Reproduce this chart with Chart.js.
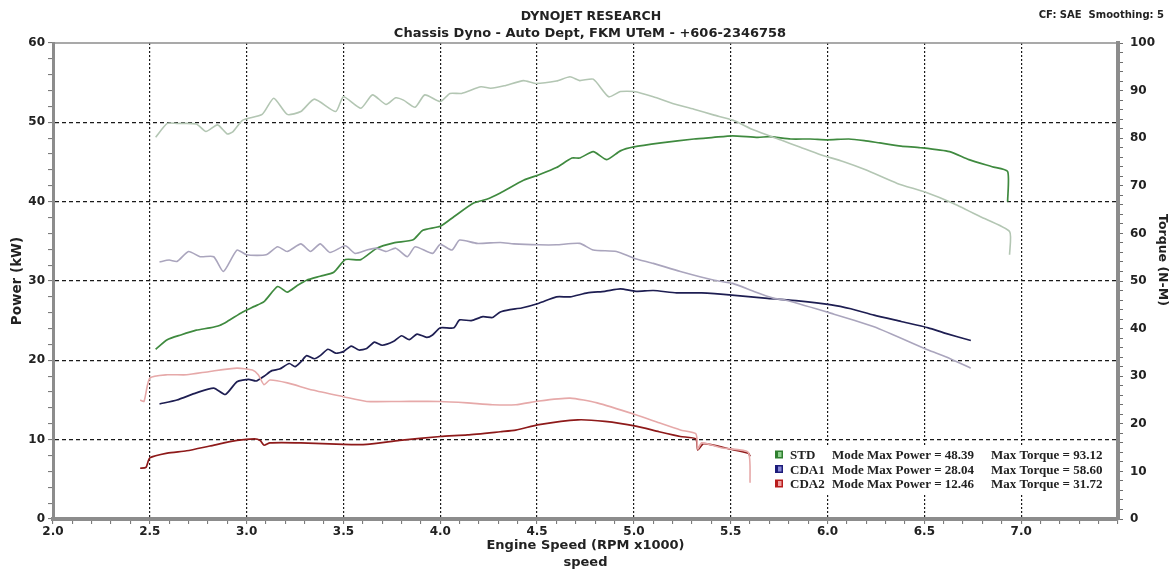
<!DOCTYPE html>
<html>
<head>
<meta charset="utf-8">
<title>Dynojet Research - Chassis Dyno</title>
<script src="https://cdn.jsdelivr.net/npm/chart.js@4.4.1/dist/chart.umd.min.js"></script>
<style>
    html, body { margin: 0; padding: 0; background: #fff; }
    #wrap { width: 1173px; height: 571px; position: relative; }
</style>
</head>
<body>
<div id="wrap"><canvas id="dyno"></canvas></div>
<script>
// 도표에서 읽은 값 (rpm x1000 / kW / N-M)
const stdPowerRpm = [2.53, 2.59, 2.66, 2.74, 2.81, 2.86, 2.90, 2.98, 3.04, 3.09, 3.16, 3.21, 3.26, 3.31, 3.38, 3.45, 3.51, 3.59, 3.67, 3.76, 3.86, 3.91, 4.00, 4.07, 4.17, 4.24, 4.31, 4.43, 4.51, 4.60, 4.68, 4.72, 4.79, 4.86, 4.93, 5.00, 5.14, 5.31, 5.41, 5.51, 5.64, 5.70, 5.81, 5.91, 6.00, 6.11, 6.19, 6.27, 6.38, 6.48, 6.63, 6.73, 6.85, 6.93, 6.93];
const stdPowerKw = [21.4, 22.6, 23.2, 23.8, 24.1, 24.4, 24.9, 26.1, 26.8, 27.4, 29.3, 28.6, 29.4, 30.1, 30.6, 31.1, 32.7, 32.7, 34.1, 34.8, 35.2, 36.4, 36.9, 38.1, 39.8, 40.3, 41.1, 42.7, 43.4, 44.3, 45.5, 45.5, 46.3, 45.3, 46.4, 46.9, 47.4, 47.9, 48.1, 48.3, 48.1, 48.2, 47.9, 47.9, 47.8, 47.9, 47.7, 47.4, 47.0, 46.8, 46.3, 45.3, 44.4, 43.8, 40.0];

const stdTorqueRpm = [2.53, 2.59, 2.64, 2.74, 2.79, 2.85, 2.90, 2.93, 2.98, 3.08, 3.14, 3.21, 3.28, 3.35, 3.46, 3.50, 3.59, 3.65, 3.72, 3.77, 3.81, 3.87, 3.92, 4.00, 4.05, 4.11, 4.21, 4.26, 4.33, 4.43, 4.49, 4.60, 4.67, 4.72, 4.79, 4.87, 4.93, 5.00, 5.10, 5.20, 5.31, 5.41, 5.51, 5.62, 5.76, 5.86, 5.96, 6.08, 6.20, 6.36, 6.51, 6.65, 6.79, 6.94, 6.94];
const stdTorqueNm = [80.2, 83.1, 83.1, 83.0, 81.4, 82.8, 80.9, 81.4, 83.8, 85.0, 88.4, 85.0, 85.6, 88.2, 85.6, 88.7, 86.3, 89.1, 87.1, 88.5, 88.0, 86.5, 89.1, 87.7, 89.4, 89.4, 90.8, 90.5, 91.0, 92.1, 91.5, 92.0, 92.9, 92.1, 92.4, 88.7, 89.8, 89.8, 88.7, 87.3, 86.1, 84.9, 83.8, 81.7, 79.6, 78.1, 76.6, 75.1, 73.3, 70.5, 68.6, 66.3, 63.5, 60.4, 55.5];

const cda1PowerRpm = [2.55, 2.64, 2.74, 2.83, 2.89, 2.95, 3.01, 3.05, 3.09, 3.13, 3.17, 3.22, 3.25, 3.28, 3.31, 3.35, 3.38, 3.42, 3.46, 3.50, 3.54, 3.58, 3.62, 3.66, 3.70, 3.76, 3.80, 3.84, 3.88, 3.93, 3.96, 4.00, 4.07, 4.10, 4.16, 4.22, 4.27, 4.31, 4.36, 4.42, 4.51, 4.60, 4.67, 4.76, 4.85, 4.93, 5.01, 5.10, 5.22, 5.35, 5.52, 5.69, 5.85, 6.02, 6.12, 6.24, 6.38, 6.52, 6.61, 6.74];
const cda1PowerKw = [14.5, 15.0, 15.9, 16.5, 15.7, 17.3, 17.6, 17.4, 18.0, 18.7, 18.9, 19.6, 19.2, 19.8, 20.6, 20.2, 20.6, 21.4, 20.9, 21.1, 21.8, 21.3, 21.5, 22.3, 21.9, 22.4, 23.1, 22.6, 23.3, 22.9, 23.2, 24.1, 24.1, 25.1, 25.0, 25.5, 25.4, 26.1, 26.4, 26.6, 27.2, 28.0, 28.0, 28.5, 28.7, 29.0, 28.7, 28.8, 28.5, 28.5, 28.2, 27.8, 27.5, 27.0, 26.5, 25.7, 24.9, 24.1, 23.4, 22.5];

const cda1TorqueRpm = [2.55, 2.60, 2.64, 2.70, 2.76, 2.83, 2.88, 2.95, 3.00, 3.10, 3.16, 3.21, 3.28, 3.33, 3.38, 3.43, 3.51, 3.56, 3.62, 3.67, 3.72, 3.77, 3.83, 3.87, 3.96, 4.00, 4.06, 4.10, 4.19, 4.31, 4.38, 4.51, 4.60, 4.72, 4.79, 4.91, 5.00, 5.10, 5.24, 5.41, 5.51, 5.62, 5.72, 5.78, 6.02, 6.24, 6.52, 6.61, 6.74];
const cda1TorqueNm = [54.0, 54.4, 54.1, 56.2, 55.1, 55.1, 52.0, 56.5, 55.5, 55.5, 57.2, 56.2, 57.8, 56.2, 57.8, 56.0, 57.4, 55.8, 56.5, 56.9, 56.2, 56.9, 55.1, 57.2, 55.8, 57.7, 56.5, 58.6, 57.9, 58.1, 57.8, 57.6, 57.6, 57.9, 56.5, 56.2, 54.8, 53.7, 52.0, 50.2, 49.5, 47.8, 46.4, 46.0, 43.2, 40.4, 35.5, 34.1, 31.7];

const cda2PowerRpm = [2.45, 2.48, 2.50, 2.59, 2.69, 2.81, 2.95, 3.04, 3.07, 3.09, 3.12, 3.28, 3.50, 3.62, 3.79, 4.00, 4.14, 4.31, 4.39, 4.51, 4.71, 4.85, 5.01, 5.13, 5.24, 5.32, 5.33, 5.36, 5.50, 5.59, 5.60];
const cda2PowerKw = [6.4, 6.5, 7.7, 8.3, 8.6, 9.2, 9.9, 10.1, 9.9, 9.3, 9.6, 9.6, 9.4, 9.4, 9.9, 10.4, 10.6, 11.0, 11.2, 11.9, 12.5, 12.3, 11.7, 11.0, 10.4, 10.1, 8.7, 9.5, 8.8, 8.3, 7.9];

const cda2TorqueRpm = [2.45, 2.47, 2.50, 2.59, 2.69, 2.81, 2.95, 3.03, 3.06, 3.09, 3.12, 3.21, 3.34, 3.50, 3.62, 3.79, 4.00, 4.14, 4.27, 4.39, 4.51, 4.67, 4.81, 5.01, 5.13, 5.24, 5.32, 5.33, 5.35, 5.46, 5.59, 5.60];
const cda2TorqueNm = [25.0, 24.7, 29.6, 30.3, 30.3, 31.0, 31.7, 31.3, 30.3, 28.2, 29.2, 28.6, 27.1, 25.7, 24.7, 24.7, 24.7, 24.4, 24.0, 24.0, 24.8, 25.4, 24.4, 21.9, 20.2, 18.7, 17.9, 14.7, 16.0, 14.9, 14.0, 7.6];

// 범례 / 눈금 라벨
const modeNames = ['STD', 'CDA1', 'CDA2'];
const modeMaxPower = ['48.39', '28.04', '12.46'];
const modeMaxTorque = ['93.12', '58.60', '31.72'];
const speedTickLabels = ['2.0', '2.5', '3.0', '3.5', '4.0', '4.5', '5.0', '5.5', '6.0', '6.5', '7.0'];
const powerTickLabels = [0, 10, 20, 30, 40, 50, 60];
const torqueTickLabels = [0, 10, 20, 30, 40, 50, 60, 70, 80, 90, 100];

const toPoints = (xs, ys) => xs.map((x, i) => ({ x: x, y: ys[i] }));
const tickFont = { family: 'DejaVu Sans', size: 12, weight: 'bold' };

function line(label, xs, ys, color, axis, width) {
    return {
        label: label, data: toPoints(xs, ys), yAxisID: axis,
        borderColor: color, backgroundColor: color,
        borderWidth: width, pointRadius: 0, tension: 0.2, fill: false
    };
}

// 제목, 범례 등 직접 그리기
const dynoDecor = {
    id: 'dynoDecor',
    beforeDatasetsDraw(chart) {
        const { ctx, chartArea: a } = chart;
        ctx.save();
        ctx.strokeStyle = '#8c8c8c';
        ctx.lineWidth = 1.5;
        ctx.beginPath();
        ctx.moveTo(a.left, a.top);
        ctx.lineTo(a.right, a.top);
        ctx.stroke();
        ctx.restore();
    },
    afterDraw(chart) {
        const ctx = chart.ctx;
        ctx.save();
        ctx.fillStyle = '#222';
        ctx.textBaseline = 'alphabetic';

        ctx.textAlign = 'center';
        ctx.font = 'bold 12.5px "DejaVu Sans"';
        ctx.fillText('DYNOJET RESEARCH', 591, 20);
        ctx.font = 'bold 13px "DejaVu Sans"';
        ctx.fillText('Chassis Dyno - Auto Dept, FKM UTeM - +606-2346758', 590, 37);

        ctx.textAlign = 'right';
        ctx.font = 'bold 10px "DejaVu Sans"';
        ctx.fillText('CF: SAE  Smoothing: 5', 1164, 18);

        // 오른쪽 축 제목
        ctx.save();
        ctx.translate(1162, 260);
        ctx.rotate(Math.PI / 2);
        ctx.textAlign = 'center';
        ctx.textBaseline = 'middle';
        ctx.font = 'bold 12.5px "DejaVu Sans"';
        ctx.fillText('Torque (N-M)', 0, 0);
        ctx.restore();

        // 범례 상자
        ctx.fillStyle = '#fff';
        ctx.fillRect(771, 446, 342, 47);
        const boxColors = [['#2f7f2f', '#8fd08f'], ['#1c1c7a', '#8a8ad8'], ['#b81c1c', '#f0a0a0']];
        ctx.textAlign = 'left';
        ctx.font = 'bold 13px "Liberation Serif"';
        modeNames.forEach((name, i) => {
            const base = 459 + i * 14.5;
            ctx.fillStyle = boxColors[i][0];
            ctx.fillRect(775, base - 8.5, 8, 8);
            ctx.fillStyle = boxColors[i][1];
            ctx.fillRect(778, base - 7, 3.5, 5);
            ctx.fillStyle = '#222';
            ctx.fillText(name, 790, base);
            ctx.fillText('Mode Max Power = ' + modeMaxPower[i], 832, base);
            ctx.fillText('Max Torque = ' + modeMaxTorque[i], 991, base);
        });
        ctx.restore();
    }
};

new Chart(document.getElementById('dyno'), {
    type: 'line',
    data: {
        datasets: [
            line('STD Torque', stdTorqueRpm, stdTorqueNm, '#b3c6b3', 'yTorque', 1.6),
            line('CDA1 Torque', cda1TorqueRpm, cda1TorqueNm, '#aaa5bd', 'yTorque', 1.6),
            line('CDA2 Torque', cda2TorqueRpm, cda2TorqueNm, '#e6a9a9', 'yTorque', 1.6),
            line('STD Power', stdPowerRpm, stdPowerKw, '#3f8a3f', 'yPower', 1.7),
            line('CDA1 Power', cda1PowerRpm, cda1PowerKw, '#1e1e52', 'yPower', 1.7),
            line('CDA2 Power', cda2PowerRpm, cda2PowerKw, '#8e1a1a', 'yPower', 1.7)
        ]
    },
    options: {
        responsive: true,
        maintainAspectRatio: false,
        animation: false,
        layout: { padding: { top: 43, left: 0, right: 0, bottom: 0 } },
        plugins: {
            legend: { display: false },
            tooltip: { enabled: false }
        },
        scales: {
            x: {
                type: 'linear', min: 2.0, max: 7.5,
                afterFit: (s) => { s.height = 52; },
                ticks: {
                    stepSize: 0.1, autoSkip: false, maxRotation: 0, padding: 1,
                    color: '#222', font: tickFont,
                    callback: (v) => speedTickLabels.includes(v.toFixed(1)) ? v.toFixed(1) : ''
                },
                grid: {
                    color: (c) => {
                        const lab = c.tick ? c.tick.value.toFixed(1) : '';
                        return (lab !== '2.0' && speedTickLabels.includes(lab)) ? '#1a1a1a' : 'rgba(0,0,0,0)';
                    },
                    lineWidth: 1.2, tickColor: '#6e6e6e', tickLength: 5, tickWidth: 1
                },
                border: { color: '#8c8c8c', width: 4, dash: [2, 2] },
                title: {
                    display: true, text: ['Engine Speed (RPM x1000)', 'speed'], color: '#222',
                    font: { family: 'DejaVu Sans', size: 13, weight: 'bold', lineHeight: 1.3 },
                    padding: 0
                }
            },
            yPower: {
                type: 'linear', position: 'left', min: 0, max: 60,
                afterFit: (s) => { s.width = 53; },
                ticks: {
                    stepSize: 2, autoSkip: false, padding: 3, color: '#222', font: tickFont,
                    callback: (v) => powerTickLabels.includes(v) ? v : ''
                },
                grid: {
                    color: (c) => {
                        const v = c.tick ? c.tick.value : 0;
                        return (v > 0 && v < 60 && powerTickLabels.includes(v)) ? '#1a1a1a' : 'rgba(0,0,0,0)';
                    },
                    lineWidth: 1.2, tickColor: '#6e6e6e', tickLength: 5, tickWidth: 1
                },
                border: { color: '#8c8c8c', width: 3, dash: [4, 3] },
                title: {
                    display: true, text: 'Power (kW)', color: '#222',
                    font: { family: 'DejaVu Sans', size: 13.5, weight: 'bold' },
                    padding: { top: 9, bottom: 0 }
                }
            },
            yTorque: {
                type: 'linear', position: 'right', min: 0, max: 100,
                afterFit: (s) => { s.width = 55; },
                ticks: {
                    stepSize: 2, autoSkip: false, padding: 7, color: '#222', font: tickFont,
                    callback: (v) => torqueTickLabels.includes(v) ? v : ''
                },
                grid: { drawOnChartArea: false, tickColor: '#6e6e6e', tickLength: 5, tickWidth: 1 },
                border: { color: '#8c8c8c', width: 4 }
            }
        }
    },
    plugins: [dynoDecor]
});
</script>
</body>
</html>
